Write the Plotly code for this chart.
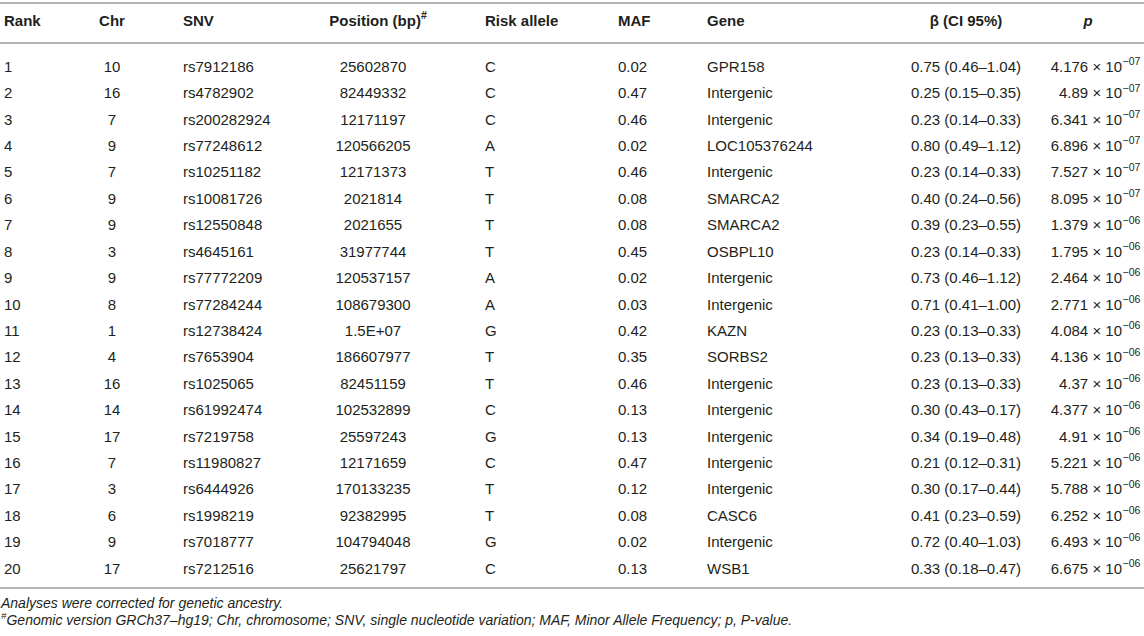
import plotly.graph_objects as go

# ---------------- data ----------------
rank = list(range(1, 21))
chr_ = [10, 16, 7, 9, 7, 9, 9, 3, 9, 8, 1, 4, 16, 14, 17, 7, 3, 6, 9, 17]
snv = ["rs7912186", "rs4782902", "rs200282924", "rs77248612", "rs10251182",
       "rs10081726", "rs12550848", "rs4645161", "rs77772209", "rs77284244",
       "rs12738424", "rs7653904", "rs1025065", "rs61992474", "rs7219758",
       "rs11980827", "rs6444926", "rs1998219", "rs7018777", "rs7212516"]
position = ["25602870", "82449332", "12171197", "120566205", "12171373",
            "2021814", "2021655", "31977744", "120537157", "108679300",
            "1.5E+07", "186607977", "82451159", "102532899", "25597243",
            "12171659", "170133235", "92382995", "104794048", "25621797"]
risk_allele = ["C", "C", "C", "A", "T", "T", "T", "T", "A", "A",
               "G", "T", "T", "C", "G", "C", "T", "T", "G", "C"]
maf = [0.02, 0.47, 0.46, 0.02, 0.46, 0.08, 0.08, 0.45, 0.02, 0.03,
       0.42, 0.35, 0.46, 0.13, 0.13, 0.47, 0.12, 0.08, 0.02, 0.13]
gene = ["GPR158", "Intergenic", "Intergenic", "LOC105376244", "Intergenic",
        "SMARCA2", "SMARCA2", "OSBPL10", "Intergenic", "Intergenic",
        "KAZN", "SORBS2", "Intergenic", "Intergenic", "Intergenic",
        "Intergenic", "Intergenic", "CASC6", "Intergenic", "WSB1"]
beta = [0.75, 0.25, 0.23, 0.80, 0.23, 0.40, 0.39, 0.23, 0.73, 0.71,
        0.23, 0.23, 0.23, 0.30, 0.34, 0.21, 0.30, 0.41, 0.72, 0.33]
ci_low = [0.46, 0.15, 0.14, 0.49, 0.14, 0.24, 0.23, 0.14, 0.46, 0.41,
          0.13, 0.13, 0.13, 0.43, 0.19, 0.12, 0.17, 0.23, 0.40, 0.18]
ci_high = [1.04, 0.35, 0.33, 1.12, 0.33, 0.56, 0.55, 0.33, 1.12, 1.00,
           0.33, 0.33, 0.33, 0.17, 0.48, 0.31, 0.44, 0.59, 1.03, 0.47]
p_mant = ["4.176", "4.89", "6.341", "6.896", "7.527", "8.095", "1.379", "1.795",
          "2.464", "2.771", "4.084", "4.136", "4.37", "4.377", "4.91", "5.221",
          "5.788", "6.252", "6.493", "6.675"]
p_exp = ["07", "07", "07", "07", "07", "07", "06", "06", "06", "06",
         "06", "06", "06", "06", "06", "06", "06", "06", "06", "06"]

headers = ["Rank", "Chr", "SNV", "Position (bp)<sup>#</sup>", "Risk allele",
           "MAF", "Gene", "β (CI 95%)", "<i>p</i>"]
footnotes = ["<i>Analyses were corrected for genetic ancestry.</i>",
             "<i><sup>#</sup>Genomic version GRCh37–hg19; Chr, chromosome; SNV, single "
             "nucleotide variation; MAF, Minor Allele Frequency; p, P-value.</i>"]

# ---------------- layout constants ----------------
W, H = 1144, 636
ROW1_PX, PITCH = 68.0, 26.42
def px_to_y(px):
    return 1 + (px - ROW1_PX) / PITCH

FONT = "Liberation Sans, Arial, Helvetica, sans-serif"
FS = 15
FS_SUP = 10.5
FS_NOTE = 14
TXT = "#231f20"
LINE = "#b4b4b4"
NOMARK = dict(size=0)   # text-only marks, no offset from the anchor

# column anchor x (pixels) and alignment
col_x = [4, 112, 183, 373, 485, 618, 707, 966]
col_pos = ["middle right", "middle center", "middle right", "middle center",
           "middle right", "middle right", "middle right", "middle center"]
head_x = [4, 112, 183, 378, 485, 618, 707, 966, 1088]
head_pos = col_pos + ["middle center"]
P_SPLIT_X = 1122       # where "× 10" ends and the exponent starts
SUP_SHIFT_PX = 5.5     # exponent raised above the baseline

columns = [
    [str(r) for r in rank],
    [str(c) for c in chr_],
    snv,
    position,
    risk_allele,
    [f"{m:.2f}" for m in maf],
    gene,
    [f"{b:.2f} ({l:.2f}–{h:.2f})" for b, l, h in zip(beta, ci_low, ci_high)],
]

fig = go.Figure()
for x0, pos, txt in zip(col_x, col_pos, columns):
    fig.add_trace(go.Scatter(
        x=[x0] * len(rank), y=rank, mode="text", text=txt,
        textposition=pos, marker=NOMARK,
        textfont=dict(family=FONT, size=FS, color=TXT),
        hoverinfo="skip", showlegend=False, cliponaxis=False))

# p-values: mantissa right-aligned, exponent as raised smaller text
fig.add_trace(go.Scatter(
    x=[P_SPLIT_X] * len(rank), y=rank, mode="text",
    text=[f"{m} × 10" for m in p_mant], textposition="middle left",
    marker=NOMARK,
    textfont=dict(family=FONT, size=FS, color=TXT),
    hoverinfo="skip", showlegend=False, cliponaxis=False))
fig.add_trace(go.Scatter(
    x=[P_SPLIT_X + 0.5] * len(rank), y=[r - SUP_SHIFT_PX / PITCH for r in rank],
    mode="text", text=[f"−{e}" for e in p_exp], textposition="middle right",
    marker=NOMARK,
    textfont=dict(family=FONT, size=FS_SUP, color=TXT),
    hoverinfo="skip", showlegend=False, cliponaxis=False))

# header row
fig.add_trace(go.Scatter(
    x=head_x, y=[px_to_y(22)] * len(headers), mode="text",
    text=[f"<b>{h}</b>" for h in headers], textposition=head_pos,
    marker=NOMARK,
    textfont=dict(family=FONT, size=FS, color=TXT),
    hoverinfo="skip", showlegend=False, cliponaxis=False))

# footnotes
fig.add_trace(go.Scatter(
    x=[1, 1], y=[px_to_y(604), px_to_y(621)], mode="text", text=footnotes,
    textposition="middle right", marker=NOMARK,
    textfont=dict(family=FONT, size=FS_NOTE, color=TXT),
    hoverinfo="skip", showlegend=False, cliponaxis=False))

# horizontal rules
for px, w in [(3, 2), (43, 2), (588, 2)]:
    fig.add_shape(type="line", xref="paper", x0=0, x1=1,
                  yref="y", y0=px_to_y(px), y1=px_to_y(px),
                  line=dict(color=LINE, width=w))

fig.update_layout(
    width=W, height=H, margin=dict(l=0, r=0, t=0, b=0),
    paper_bgcolor="white", plot_bgcolor="white",
    xaxis=dict(range=[0, W], visible=False, fixedrange=True),
    yaxis=dict(range=[px_to_y(H), px_to_y(0)], visible=False, fixedrange=True),
)
fig.write_html(
    "out.html",
    config={"displayModeBar": False},
    post_script="document.body.style.margin='0';document.body.style.overflow='hidden';",
)
